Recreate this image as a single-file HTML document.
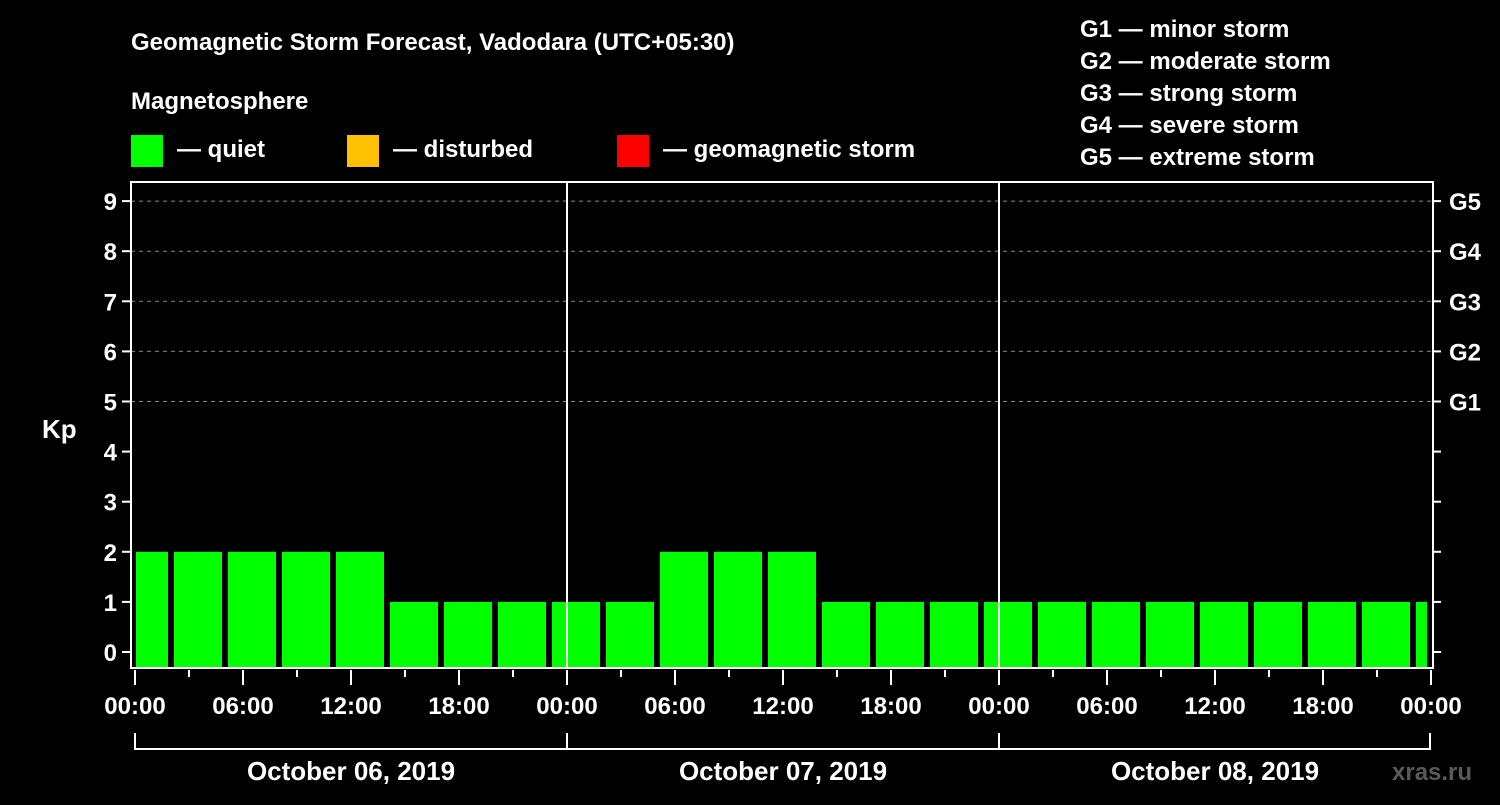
<!DOCTYPE html>
<html><head><meta charset="utf-8"><style>
body{margin:0;background:#000;width:1500px;height:800px;overflow:hidden}
svg text{font-family:"Liberation Sans",Arial,sans-serif;font-weight:bold;fill:#fff}
</style></head><body>
<svg id="chart" width="1500" height="800" xmlns="http://www.w3.org/2000/svg">
<rect width="1500" height="800" fill="#000"/>
<text x="131" y="50" font-size="24">Geomagnetic Storm Forecast, Vadodara (UTC+05:30)</text>
<text x="131" y="109" font-size="24">Magnetosphere</text>
<g><rect x="131" y="135" width="32" height="32" fill="#00ff00"/><text x="177" y="157" font-size="24">— quiet</text></g>
<g><rect x="347" y="135" width="32" height="32" fill="#ffc000"/><text x="393" y="157" font-size="24">— disturbed</text></g>
<g><rect x="617" y="135" width="32" height="32" fill="#ff0000"/><text x="663" y="157" font-size="24">— geomagnetic storm</text></g>
<g font-size="24">
<text x="1080" y="37">G1 — minor storm</text>
<text x="1080" y="69">G2 — moderate storm</text>
<text x="1080" y="101">G3 — strong storm</text>
<text x="1080" y="133">G4 — severe storm</text>
<text x="1080" y="165">G5 — extreme storm</text>
</g>
<text x="42" y="438" font-size="26">Kp</text>
<g id="grid"></g><g id="bars"></g><g id="axes"></g>
<text x="1392" y="780" font-size="24" fill="#555" style="fill:#5a5a5a">xras.ru</text>
</svg>
<script>
const kpValues=[2,2,2,2,2,1,1,1,1,1,2,2,2,1,1,1,1,1,1,1,1,1,1,1,1];
const barStartHours=[-1,2,5,8,11,14,17,20,23,26,29,32,35,38,41,44,47,50,53,56,59,62,65,68,71];
const yTicks=[0,1,2,3,4,5,6,7,8,9];
const gLabels=["G1","G2","G3","G4","G5"];
const xTickLabels=["00:00","06:00","12:00","18:00","00:00","06:00","12:00","18:00","00:00","06:00","12:00","18:00","00:00"];
const dayLabels=["October 06, 2019","October 07, 2019","October 08, 2019"];
const NS="http://www.w3.org/2000/svg";
const L=131,R=1433,T=182,B=668;
const xS=h=>Math.max(L,Math.min(1430,135+18*h));
const yS=v=>652-50.1*v;
function mk(tag,attrs,parent,txt){const e=document.createElementNS(NS,tag);for(const k in attrs)e.setAttribute(k,attrs[k]);if(txt!==undefined)e.textContent=txt;document.getElementById(parent).appendChild(e);return e;}
// grid
for(let v=5;v<=9;v++){const l=mk('line',{x1:L,x2:R,y1:yS(v),y2:yS(v),stroke:'#888','stroke-dasharray':'4,4','stroke-width':1},'grid');

}
// bars
kpValues.forEach((v,i)=>{const h0=barStartHours[i];const x0=Math.max(136,xS(h0)+3),x1=Math.min(1428,xS(h0+3)-3);
const c=v>=5?'#ff0000':(v>=4?'#ffc000':'#00ff00');
const r=mk('rect',{x:x0,y:yS(v),width:x1-x0,height:B-yS(v),fill:c},'bars');

});
// axes
const box=mk('rect',{x:L,y:T,width:R-L,height:B-T,fill:'none',stroke:'#fff','stroke-width':2},'axes');


for(let d=1;d<3;d++){const l=mk('line',{x1:xS(24*d),x2:xS(24*d),y1:T,y2:B,stroke:'#fff','stroke-width':2},'axes');

}
yTicks.forEach(v=>{mk('line',{x1:122,x2:L,y1:yS(v),y2:yS(v),stroke:'#fff','stroke-width':2},'axes');
mk('line',{x1:R,x2:1441,y1:yS(v),y2:yS(v),stroke:'#fff','stroke-width':2},'axes');
const t=mk('text',{x:117,y:yS(v)+9,'font-size':24,'text-anchor':'end'},'axes',v);

});
gLabels.forEach((g,i)=>{const t=mk('text',{x:1449,y:yS(5+i)+9,'font-size':24},'axes',g);

});
for(let h=0;h<=72;h+=3){const maj=h%6===0;mk('line',{x1:135+18*h,x2:135+18*h,y1:670,y2:maj?685:677,stroke:'#fff','stroke-width':2},'axes');}
xTickLabels.forEach((s,i)=>{const t=mk('text',{x:135+108*i,y:714,'font-size':24,'text-anchor':'middle'},'axes',s);

});
mk('path',{d:'M135,733V749H1430V733M567,733V749M999,733V749',stroke:'#fff','stroke-width':2,fill:'none'},'axes');
dayLabels.forEach((s,i)=>{const t=mk('text',{x:135+432*i+216,y:780,'font-size':26,'text-anchor':'middle'},'axes',s);

});
</script>
</body></html>
